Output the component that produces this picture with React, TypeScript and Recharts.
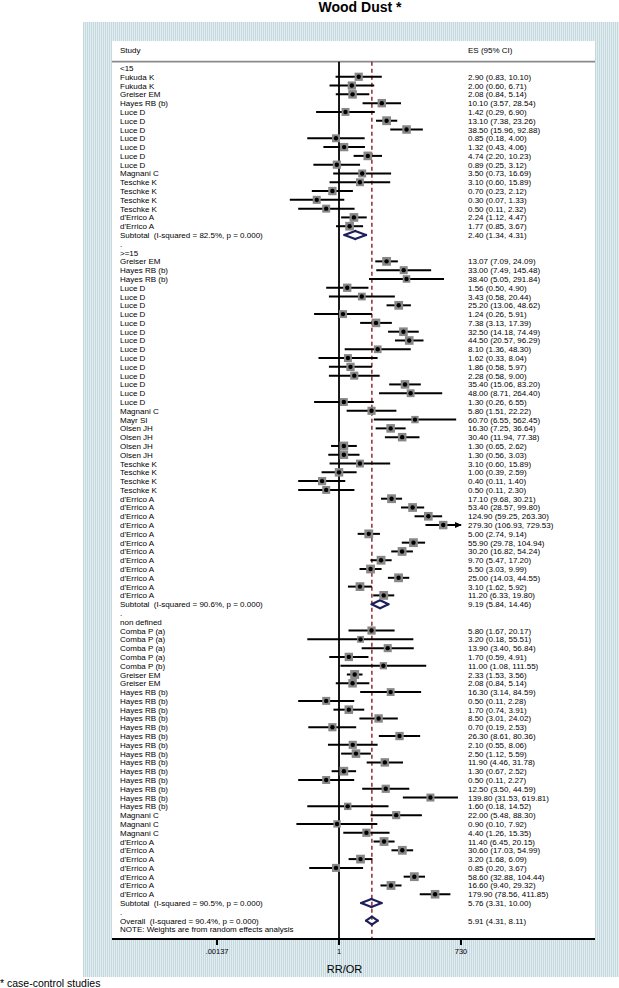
import { ReferenceLine, Scatter, ScatterChart, XAxis, YAxis } from "recharts";

type Study = [string, number, number, number];

const groupNames = ["<15", ">=15", "non defined"];

const lt15: Study[] = [
  ["Fukuda K", 2.9, 0.83, 10.1],
  ["Fukuda K", 2.0, 0.6, 6.71],
  ["Greiser EM", 2.08, 0.84, 5.14],
  ["Hayes RB (b)", 10.1, 3.57, 28.54],
  ["Luce D", 1.42, 0.29, 6.9],
  ["Luce D", 13.1, 7.38, 23.26],
  ["Luce D", 38.5, 15.96, 92.88],
  ["Luce D", 0.85, 0.18, 4.0],
  ["Luce D", 1.32, 0.43, 4.06],
  ["Luce D", 4.74, 2.2, 10.23],
  ["Luce D", 0.89, 0.25, 3.12],
  ["Magnani C", 3.5, 0.73, 16.69],
  ["Teschke K", 3.1, 0.6, 15.89],
  ["Teschke K", 0.7, 0.23, 2.12],
  ["Teschke K", 0.3, 0.07, 1.33],
  ["Teschke K", 0.5, 0.11, 2.32],
  ["d'Errico A", 2.24, 1.12, 4.47],
  ["d'Errico A", 1.77, 0.85, 3.67],
];

const ge15: Study[] = [
  ["Greiser EM", 13.07, 7.09, 24.09],
  ["Hayes RB (b)", 33.0, 7.49, 145.48],
  ["Hayes RB (b)", 38.4, 5.05, 291.84],
  ["Luce D", 1.56, 0.5, 4.9],
  ["Luce D", 3.43, 0.58, 20.44],
  ["Luce D", 25.2, 13.06, 48.62],
  ["Luce D", 1.24, 0.26, 5.91],
  ["Luce D", 7.38, 3.13, 17.39],
  ["Luce D", 32.5, 14.18, 74.49],
  ["Luce D", 44.5, 20.57, 96.29],
  ["Luce D", 8.1, 1.36, 48.3],
  ["Luce D", 1.62, 0.33, 8.04],
  ["Luce D", 1.86, 0.58, 5.97],
  ["Luce D", 2.28, 0.58, 9.0],
  ["Luce D", 35.4, 15.06, 83.2],
  ["Luce D", 48.0, 8.71, 264.4],
  ["Luce D", 1.3, 0.26, 6.55],
  ["Magnani C", 5.8, 1.51, 22.22],
  ["Mayr SI", 60.7, 6.55, 562.45],
  ["Olsen JH", 16.3, 7.25, 36.64],
  ["Olsen JH", 30.4, 11.94, 77.38],
  ["Olsen JH", 1.3, 0.65, 2.62],
  ["Olsen JH", 1.3, 0.56, 3.03],
  ["Teschke K", 3.1, 0.6, 15.89],
  ["Teschke K", 1.0, 0.39, 2.59],
  ["Teschke K", 0.4, 0.11, 1.4],
  ["Teschke K", 0.5, 0.11, 2.3],
  ["d'Errico A", 17.1, 9.68, 30.21],
  ["d'Errico A", 53.4, 28.57, 99.8],
  ["d'Errico A", 124.9, 59.25, 263.3],
  ["d'Errico A", 279.3, 106.93, 729.53],
  ["d'Errico A", 5.0, 2.74, 9.14],
  ["d'Errico A", 55.9, 29.78, 104.94],
  ["d'Errico A", 30.2, 16.82, 54.24],
  ["d'Errico A", 9.7, 5.47, 17.2],
  ["d'Errico A", 5.5, 3.03, 9.99],
  ["d'Errico A", 25.0, 14.03, 44.55],
  ["d'Errico A", 3.1, 1.62, 5.92],
  ["d'Errico A", 11.2, 6.33, 19.8],
];

const notDefined: Study[] = [
  ["Comba P (a)", 5.8, 1.67, 20.17],
  ["Comba P (a)", 3.2, 0.18, 55.51],
  ["Comba P (a)", 13.9, 3.4, 56.84],
  ["Comba P (a)", 1.7, 0.59, 4.91],
  ["Comba P (b)", 11.0, 1.08, 111.55],
  ["Greiser EM", 2.33, 1.53, 3.56],
  ["Greiser EM", 2.08, 0.84, 5.14],
  ["Hayes RB (b)", 16.3, 3.14, 84.59],
  ["Hayes RB (b)", 0.5, 0.11, 2.28],
  ["Hayes RB (b)", 1.7, 0.74, 3.91],
  ["Hayes RB (b)", 8.5, 3.01, 24.02],
  ["Hayes RB (b)", 0.7, 0.19, 2.53],
  ["Hayes RB (b)", 26.3, 8.61, 80.36],
  ["Hayes RB (b)", 2.1, 0.55, 8.06],
  ["Hayes RB (b)", 2.5, 1.12, 5.59],
  ["Hayes RB (b)", 11.9, 4.46, 31.78],
  ["Hayes RB (b)", 1.3, 0.67, 2.52],
  ["Hayes RB (b)", 0.5, 0.11, 2.27],
  ["Hayes RB (b)", 12.5, 3.5, 44.59],
  ["Hayes RB (b)", 139.8, 31.53, 619.81],
  ["Hayes RB (b)", 1.6, 0.18, 14.52],
  ["Magnani C", 22.0, 5.48, 88.3],
  ["Magnani C", 0.9, 0.1, 7.92],
  ["Magnani C", 4.4, 1.26, 15.35],
  ["d'Errico A", 11.4, 6.45, 20.15],
  ["d'Errico A", 30.6, 17.03, 54.99],
  ["d'Errico A", 3.2, 1.68, 6.09],
  ["d'Errico A", 0.85, 0.2, 3.67],
  ["d'Errico A", 58.6, 32.88, 104.44],
  ["d'Errico A", 16.6, 9.4, 29.32],
  ["d'Errico A", 179.9, 78.56, 411.85],
];

const subtotals: [number, number, number][] = [
  [2.4, 1.34, 4.31],
  [9.19, 5.84, 14.46],
  [5.76, 3.31, 10.0],
];
const subtotalI2 = ["82.5%", "90.6%", "90.5%"];
const overall: [number, number, number] = [5.91, 4.31, 8.11];
const overallI2 = "90.4%";

const xTicks = [0.00137, 1, 730];
const xTickLabels = [".00137", "1", "730"];

const FONT = "'Liberation Sans', Arial, Helvetica, sans-serif";
const HEADER_Y = -2.05;
const SEP_Y = -0.72;
const Y_MIN = -3.07;
const Y_MAX = 99.09;
const LABEL_X = 120;
const ES_X = 468;

type Row = { label: string; ci?: [number, number, number]; kind: "head" | "study" | "sub" | "blank" | "note" };

const rows: Row[] = [];
[lt15, ge15, notDefined].forEach((group, gi) => {
  rows.push({ label: groupNames[gi], kind: "head" });
  group.forEach(([name, es, lo, hi]) => rows.push({ label: name, ci: [es, lo, hi], kind: "study" }));
  rows.push({ label: `Subtotal  (I-squared = ${subtotalI2[gi]}, p = 0.000)`, ci: subtotals[gi], kind: "sub" });
  rows.push({ label: ".", kind: "blank" });
});
rows.push({ label: `Overall  (I-squared = ${overallI2}, p = 0.000)`, ci: overall, kind: "sub" });
rows.push({ label: "NOTE: Weights are from random effects analysis", kind: "note" });

const studyPoints = rows
  .map((r, i) => ({ r, i }))
  .filter(({ r }) => r.kind === "study")
  .map(({ r, i }) => ({ x: r.ci![0], y: i, lo: r.ci![1], hi: r.ci![2] }));

const arrowPoints = studyPoints.filter((p) => p.hi > 700).map((p) => ({ x: p.hi, y: p.y }));

const diamonds = rows
  .map((r, i) => ({ r, i }))
  .filter(({ r }) => r.kind === "sub")
  .map(({ r, i }) => ({ es: r.ci![0], lo: r.ci![1], hi: r.ci![2], y: i }));

const fmt = (v: number) => v.toFixed(2);
const tickValues = [HEADER_Y, ...rows.map((_, i) => i)];

function RowTick({ y, payload }: any) {
  const textStyle = { fontFamily: FONT, fontSize: 8, fill: "#000", whiteSpace: "pre" } as any;
  if (payload.value === HEADER_Y) {
    return (
      <g>
        <text x={LABEL_X} y={y} dy={3} style={textStyle}>Study</text>
        <text x={ES_X} y={y} dy={3} style={textStyle}>ES (95% CI)</text>
      </g>
    );
  }
  const row = rows[payload.value];
  if (!row) return null;
  return (
    <g>
      <text x={LABEL_X} y={y} dy={3} style={textStyle}>{row.label}</text>
      {row.ci && (
        <text x={ES_X} y={y} dy={3} style={textStyle}>
          {`${fmt(row.ci[0])} (${fmt(row.ci[1])}, ${fmt(row.ci[2])})`}
        </text>
      )}
    </g>
  );
}

function StudyMark(props: any) {
  const { cx, cy, payload } = props;
  const s = Math.max(6.5, Math.min(9, 9.3 - Math.log10(payload.hi / payload.lo)));
  return (
    <g>
      <rect x={cx - s / 2} y={cy - s / 2} width={s} height={s} fill="#878787" />
      <circle cx={cx} cy={cy} r={2.2} fill="#000" />
    </g>
  );
}

function ArrowMark({ cx, cy }: any) {
  return <polygon points={`${cx - 6},${cy - 3} ${cx + 1},${cy} ${cx - 6},${cy + 3}`} fill="#000" />;
}

export default function App() {
  const diamondH = 0.46;
  return (
    <div style={{ position: "absolute", left: 0, top: 0, width: 619, height: 988, background: "#fff" }}>
      <div
        style={{
          position: "absolute",
          left: 83,
          top: 22,
          width: 536,
          height: 955,
          background: "repeating-linear-gradient(90deg, #c3d8df 0px, #c3d8df 1px, #e4eef1 1px, #e4eef1 2px)",
        }}
      />
      <div style={{ position: "absolute", left: 112, top: 41, width: 483, height: 898, background: "#fff" }} />
      <div
        style={{
          position: "absolute",
          left: 360,
          top: 0,
          transform: "translateX(-50%)",
          fontFamily: FONT,
          fontWeight: "bold",
          fontSize: 14,
          lineHeight: "15px",
          whiteSpace: "nowrap",
        }}
      >
        Wood Dust *
      </div>
      <div
        style={{
          position: "absolute",
          left: 0,
          top: 977,
          fontFamily: FONT,
          fontSize: 10.5,
          lineHeight: "12px",
          whiteSpace: "nowrap",
        }}
      >
        * case-control studies
      </div>
      <div style={{ position: "absolute", left: 0, top: 0 }}>
        <ScatterChart width={619} height={988} margin={{ top: 41, right: 24, bottom: 10, left: 111 }}>
          <XAxis
            type="number"
            dataKey="x"
            scale="log"
            domain={[4.69e-6, 1.021e6]}
            allowDataOverflow
            ticks={xTicks}
            interval={0}
            tickFormatter={(v: number) => xTickLabels[xTicks.indexOf(v)] ?? String(v)}
            stroke="#000"
            strokeWidth={2}
            tickSize={6}
            tickMargin={4}
            tick={{ fill: "#000", fontSize: 7.5, fontFamily: FONT }}
            height={39}
            label={{ value: "RR/OR", position: "insideBottom", offset: 5, fill: "#000", fontSize: 11, fontFamily: FONT, dx: -9 }}
          />
          <YAxis
            type="number"
            dataKey="y"
            domain={[Y_MIN, Y_MAX]}
            reversed
            allowDataOverflow
            ticks={tickValues}
            interval={0}
            width={1}
            axisLine={false}
            tickLine={false}
            tick={<RowTick />}
          />
          <ReferenceLine y={SEP_Y} stroke="#8a8a8a" strokeWidth={1.6} />
          <ReferenceLine
            segment={[{ x: 1, y: SEP_Y }, { x: 1, y: Y_MAX }]}
            stroke="#000"
            strokeWidth={1.8}
          />
          <ReferenceLine
            segment={[{ x: overall[0], y: SEP_Y }, { x: overall[0], y: Y_MAX }]}
            stroke="#8b1a22"
            strokeWidth={1.4}
            strokeDasharray="4 3"
          />
          {studyPoints.map((p, i) => (
            <ReferenceLine
              key={`ci-${i}`}
              segment={[{ x: p.lo, y: p.y }, { x: p.hi, y: p.y }]}
              stroke="#000"
              strokeWidth={2}
            />
          ))}
          {diamonds.flatMap((d, i) => [
            [d.lo, d.y, d.es, d.y - diamondH],
            [d.es, d.y - diamondH, d.hi, d.y],
            [d.hi, d.y, d.es, d.y + diamondH],
            [d.es, d.y + diamondH, d.lo, d.y],
          ].map(([x1, y1, x2, y2], k) => (
            <ReferenceLine
              key={`dm-${i}-${k}`}
              segment={[{ x: x1, y: y1 }, { x: x2, y: y2 }]}
              stroke="#1b1f5c"
              strokeWidth={2.2}
              strokeLinecap="round"
            />
          )))}
          <Scatter data={studyPoints} shape={<StudyMark />} isAnimationActive={false} />
          <Scatter data={arrowPoints} shape={<ArrowMark />} isAnimationActive={false} />
        </ScatterChart>
      </div>
    </div>
  );
}
